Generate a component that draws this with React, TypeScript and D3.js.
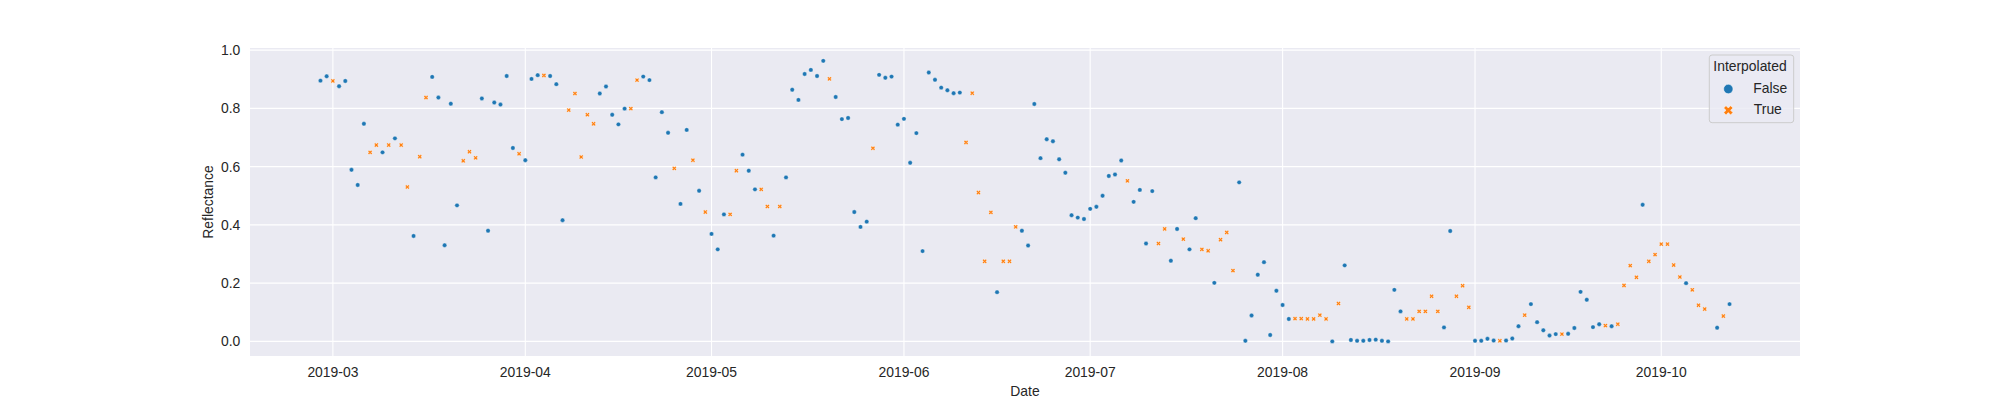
import React from "react";
import * as d3 from "d3";

// Daily observations, starting 2019-02-27 (one missing day -> null)
const startDate = "2019-02-27";
const reflectance: (number | null)[] = [
  0.895, 0.910, 0.894, 0.876, 0.894, 0.589, 0.537, 0.747, 0.649, 0.674,
  0.649, 0.674, 0.697, 0.674, 0.530, 0.362, 0.634, 0.837, 0.908, 0.837,
  0.330, 0.816, 0.467, 0.620, 0.651, 0.630, 0.834, 0.380, 0.820, 0.813,
  0.911, 0.664, 0.644, 0.622, 0.901, 0.914, 0.913, 0.911, 0.883, 0.416,
  0.794, 0.851, 0.633, 0.778, 0.747, 0.851, 0.875, 0.778, 0.745, 0.799,
  0.799, 0.897, 0.909, 0.897, 0.563, 0.787, 0.716, 0.594, 0.472, 0.726,
  0.622, 0.517, 0.444, 0.369, 0.316, 0.436, 0.436, 0.586, 0.641, 0.586,
  0.522, 0.522, 0.463, 0.363, 0.463, 0.563, 0.864, 0.829, 0.918, 0.932,
  0.911, 0.963, 0.901, 0.839, 0.763, 0.767, 0.444, 0.393, 0.411, 0.663,
  0.915, 0.905, 0.909, 0.744, 0.764, 0.613, 0.715, 0.310, 0.923, 0.898,
  0.871, 0.862, 0.852, 0.854, 0.683, 0.852, 0.511, 0.275, 0.443, 0.169,
  0.275, 0.275, 0.393, 0.380, 0.329, 0.815, 0.629, 0.694, 0.687, 0.625,
  0.579, 0.433, 0.425, 0.420, 0.455, 0.462, 0.500, 0.568, 0.573, 0.621,
  0.551, 0.479, 0.520, 0.336, 0.516, 0.336, 0.386, 0.277, 0.386, 0.351,
  0.316, 0.423, 0.316, 0.311, 0.201, 0.349, 0.374, 0.243, 0.546, 0.002,
  0.089, 0.229, 0.272, 0.022, 0.174, 0.125, 0.077, 0.078, 0.078, 0.077,
  0.077, 0.090, 0.077, 0.000, 0.130, 0.261, 0.005, 0.002, 0.002, 0.005,
  0.006, 0.002, 0.000, 0.177, 0.103, 0.077, 0.077, 0.103, 0.103, 0.155,
  0.103, 0.048, 0.379, 0.155, 0.191, 0.117, 0.002, 0.002, 0.009, 0.003,
  0.002, 0.003, 0.010, 0.052, 0.090, 0.128, 0.066, 0.038, 0.020, 0.025,
  0.025, 0.026, 0.046, 0.170, 0.143, 0.049, 0.059, 0.054, 0.052, 0.059,
  0.192, 0.260, 0.220, 0.469, 0.275, 0.298, 0.334, 0.334, 0.262, 0.221,
  0.200, 0.177, 0.124, 0.111, null, 0.047, 0.087, 0.128,
];
const interpolated: (number | null)[] = [
  0, 0, 1, 0, 0, 0, 0, 0, 1, 1,
  0, 1, 0, 1, 1, 0, 1, 1, 0, 0,
  0, 0, 0, 1, 1, 1, 0, 0, 0, 0,
  0, 0, 1, 0, 0, 0, 1, 0, 0, 0,
  1, 1, 1, 1, 1, 0, 0, 0, 0, 0,
  1, 1, 0, 0, 0, 0, 0, 1, 0, 0,
  1, 0, 1, 0, 0, 0, 1, 1, 0, 0,
  0, 1, 1, 0, 1, 0, 0, 0, 0, 0,
  0, 0, 1, 0, 0, 0, 0, 0, 0, 1,
  0, 0, 0, 0, 0, 0, 0, 0, 0, 0,
  0, 0, 0, 0, 1, 1, 1, 1, 1, 0,
  1, 1, 1, 0, 0, 0, 0, 0, 0, 0,
  0, 0, 0, 0, 0, 0, 0, 0, 0, 0,
  1, 0, 0, 0, 0, 1, 1, 0, 0, 1,
  0, 0, 1, 1, 0, 1, 1, 1, 0, 0,
  0, 0, 0, 0, 0, 0, 0, 1, 1, 1,
  1, 1, 1, 0, 1, 0, 0, 0, 0, 0,
  0, 0, 0, 0, 0, 1, 1, 1, 1, 1,
  1, 0, 0, 1, 1, 1, 0, 0, 0, 0,
  1, 0, 0, 0, 1, 0, 0, 0, 0, 0,
  1, 0, 0, 0, 0, 0, 0, 1, 0, 1,
  1, 1, 1, 0, 1, 1, 1, 1, 1, 1,
  0, 1, 1, 1, null, 0, 1, 0,
];
const xTickDates = ["2019-03-01", "2019-04-01", "2019-05-01", "2019-06-01", "2019-07-01", "2019-08-01", "2019-09-01", "2019-10-01"];
const yTicks = [0.0, 0.2, 0.4, 0.6, 0.8, 1.0];
const legendTitle = "Interpolated";
const legendLabels = ["False", "True"];
const xLabel = "Date";
const yLabel = "Reflectance";

const W = 2000;
const H = 400;
const left = 250, right = 1800, top = 48, bottom = 356;
const BLUE = "#1f77b4";
const ORANGE = "#ff7f0e";
const TXT = "#262626";
const FONT = "'Liberation Sans', Arial, sans-serif";
const FS = 13.9;

const DAY = 86400000;

function xPath(size: number) {
  const pts = [
    [-1, -2], [0, -1], [1, -2], [2, -1], [1, 0], [2, 1],
    [1, 2], [0, 1], [-1, 2], [-2, 1], [-1, 0], [-2, -1],
  ];
  const s = size / 4;
  return "M" + pts.map(([a, b]) => `${(a * s).toFixed(3)},${(b * s).toFixed(3)}`).join("L") + "Z";
}

export default function App() {
  const start = new Date(startDate + "T00:00:00Z").getTime();
  const points = reflectance
    .map((v, i) => ({ date: new Date(start + i * DAY), v, interp: interpolated[i] }))
    .filter((p) => p.v !== null) as { date: Date; v: number; interp: number }[];

  const dMin = d3.min(points, (p) => p.date.getTime())!;
  const dMax = d3.max(points, (p) => p.date.getTime())!;
  const dm = (dMax - dMin) * 0.05;
  const x = d3.scaleUtc().domain([new Date(dMin - dm), new Date(dMax + dm)]).range([left, right]);

  const vMin = d3.min(points, (p) => p.v)!;
  const vMax = d3.max(points, (p) => p.v)!;
  const vm = (vMax - vMin) * 0.05;
  const y = d3.scaleLinear().domain([vMin - vm - 0.002, vMax + vm - 0.004]).range([bottom, top]);

  const markerSize = 4.4;
  const xp = xPath(markerSize);
  const legendX = xPath(9.2);

  const lgX = 1709.3, lgY = 55, lgW = 84.4, lgH = 67.7;

  return (
    <svg
      width={W}
      height={H}
      style={{ position: "absolute", left: 0, top: 0, background: "#fff" }}
      fontFamily={FONT}
    >
      <rect x={0} y={0} width={W} height={H} fill="#ffffff" />
      <rect x={left} y={top} width={right - left} height={bottom - top} fill="#EAEAF2" />
      <g stroke="#ffffff" strokeWidth={1.1}>
        {xTickDates.map((d) => {
          const px = x(new Date(d + "T00:00:00Z"));
          return <line key={d} x1={px} x2={px} y1={top} y2={bottom} />;
        })}
        {yTicks.map((t) => (
          <line key={t} x1={left} x2={right} y1={y(t)} y2={y(t)} />
        ))}
      </g>
      <g>
        {points.map((p, i) =>
          p.interp ? (
            <path
              key={i}
              d={xp}
              transform={`translate(${x(p.date)},${y(p.v)})`}
              fill={ORANGE}
              stroke="#ffffff"
              strokeWidth={0.35}
            />
          ) : (
            <circle
              key={i}
              cx={x(p.date)}
              cy={y(p.v)}
              r={markerSize / 2}
              fill={BLUE}
              stroke="#ffffff"
              strokeWidth={0.35}
            />
          )
        )}
      </g>
      <g fill={TXT} fontSize={FS}>
        {xTickDates.map((d) => (
          <text key={d} x={x(new Date(d + "T00:00:00Z"))} y={377} textAnchor="middle">
            {d.slice(0, 7)}
          </text>
        ))}
        {yTicks.map((t) => (
          <text key={t} x={240.3} y={y(t) + 5} textAnchor="end">
            {t.toFixed(1)}
          </text>
        ))}
        <text x={(left + right) / 2} y={396} textAnchor="middle">
          {xLabel}
        </text>
        <text transform={`translate(212.5,${(top + bottom) / 2}) rotate(-90)`} textAnchor="middle">
          {yLabel}
        </text>
      </g>
      <g>
        <rect
          x={lgX}
          y={lgY}
          width={lgW}
          height={lgH}
          rx={2.8}
          fill="#EAEAF2"
          fillOpacity={0.8}
          stroke="#cccccc"
          strokeWidth={1}
        />
        <text x={lgX + lgW / 2 - 1.5} y={71} textAnchor="middle" fontSize={FS} fill={TXT}>
          {legendTitle}
        </text>
        <circle cx={1728.3} cy={89} r={4.7} fill={BLUE} stroke="#ffffff" strokeWidth={0.5} />
        <path d={legendX} transform="translate(1728.3,110.3)" fill={ORANGE} stroke="#ffffff" strokeWidth={0.5} />
        <text x={1753.3} y={92.5} fontSize={FS} fill={TXT}>
          {legendLabels[0]}
        </text>
        <text x={1753.8} y={113.5} fontSize={FS} fill={TXT}>
          {legendLabels[1]}
        </text>
      </g>
    </svg>
  );
}
